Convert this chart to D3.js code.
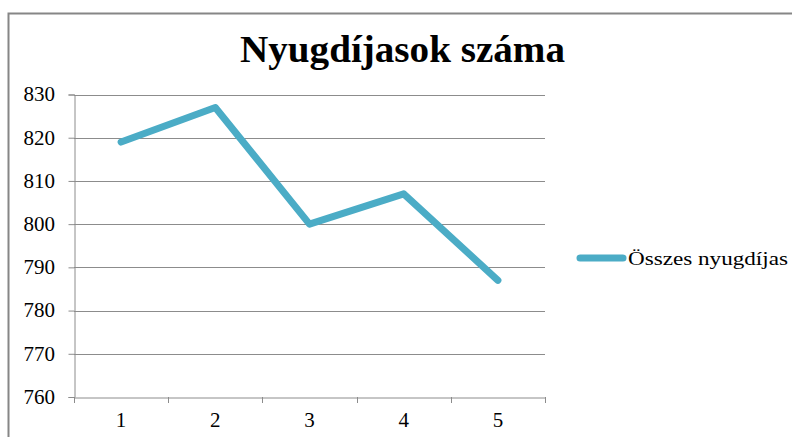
<!DOCTYPE html>
<html><head><meta charset="utf-8">
<script src="https://cdn.jsdelivr.net/npm/d3@7"></script>
<style>html,body{margin:0;padding:0;background:#fff;}svg{display:block;}</style>
</head><body>
<svg id="c" width="792" height="437"></svg>
<script>
const title = "Nyugdíjasok száma";
const seriesName = "Összes nyugdíjas";
const categories = ["1","2","3","4","5"];
const values = [819, 827, 800, 807, 787];
const yTicks = [760,770,780,790,800,810,820,830];

(function(){
const svg = d3.select("#c");
const W = 792, H = 437;
const mL = 74, mR = 545, mT = 94.5, mB = 397;
const color = "#4BACC6";
const gridColor = "#8c8c8c";
const serif = '"Liberation Serif","Times New Roman",serif';

// frame
svg.append("path").attr("d", `M8.5,${H+5} L8.5,13.5 L${W+5},13.5`)
  .attr("fill","none").attr("stroke","#868686").attr("stroke-width",2);

const x = d3.scaleBand().domain(categories).range([mL, mR]);
const y = d3.scaleLinear().domain([760, 830]).range([mB, mT]);

// gridlines
svg.append("g").selectAll("line").data(yTicks.filter(d=>d!==760)).join("line")
  .attr("x1", mL).attr("x2", mR)
  .attr("y1", d=>Math.round(y(d))+0.5).attr("y2", d=>Math.round(y(d))+0.5)
  .attr("stroke", gridColor).attr("stroke-width",1);

// y axis
const yAxis = svg.append("g").attr("transform",`translate(${mL+0.5},0)`)
  .call(d3.axisLeft(y).tickValues(yTicks).tickSize(6).tickPadding(13.5));
yAxis.attr("font-family", null).attr("font-size", null);
yAxis.select(".domain").attr("stroke", gridColor);
yAxis.selectAll(".tick line").attr("stroke", gridColor);
yAxis.selectAll("text").style("font-family",serif)
  .style("font-size","21px").attr("fill","#000").attr("dy","0.3em");

// x axis
const xAxis = svg.append("g").attr("transform",`translate(0,${Math.round(mB)+0.5})`)
  .call(d3.axisBottom(x).tickSize(0).tickPadding(14.5));
xAxis.attr("font-family", null).attr("font-size", null);
xAxis.select(".domain").attr("stroke", gridColor);
xAxis.selectAll("text").style("font-family",serif)
  .style("font-size","21px").attr("fill","#000");
const bounds = categories.map(c=>x(c)).concat([mR]);
svg.append("g").selectAll("line").data(bounds).join("line")
  .attr("x1", d=>Math.round(d)+0.5).attr("x2", d=>Math.round(d)+0.5)
  .attr("y1", Math.round(mB)).attr("y2", Math.round(mB)+6)
  .attr("stroke", gridColor);

// series line
const line = d3.line().x((d,i)=>x(categories[i])+x.bandwidth()/2).y(d=>y(d));
svg.append("path").datum(values).attr("d", line)
  .attr("fill","none").attr("stroke", color).attr("stroke-width",7)
  .attr("stroke-linejoin","round").attr("stroke-linecap","round");

// title
svg.append("text").attr("x", 402.5).attr("y", 62).attr("text-anchor","middle")
  .style("font-family",serif)
  .style("font-weight","bold").style("font-size","37px")
  .attr("textLength",325).attr("lengthAdjust","spacingAndGlyphs").text(title);

// legend
svg.append("line").attr("x1",580).attr("x2",623).attr("y1",258).attr("y2",258)
  .attr("stroke", color).attr("stroke-width",7).attr("stroke-linecap","round");
svg.append("text").attr("x",628).attr("y",265)
  .style("font-family",serif)
  .style("font-size","18px").attr("fill","#000")
  .attr("textLength",160).attr("lengthAdjust","spacingAndGlyphs").text(seriesName);
})();
</script>
</body></html>
